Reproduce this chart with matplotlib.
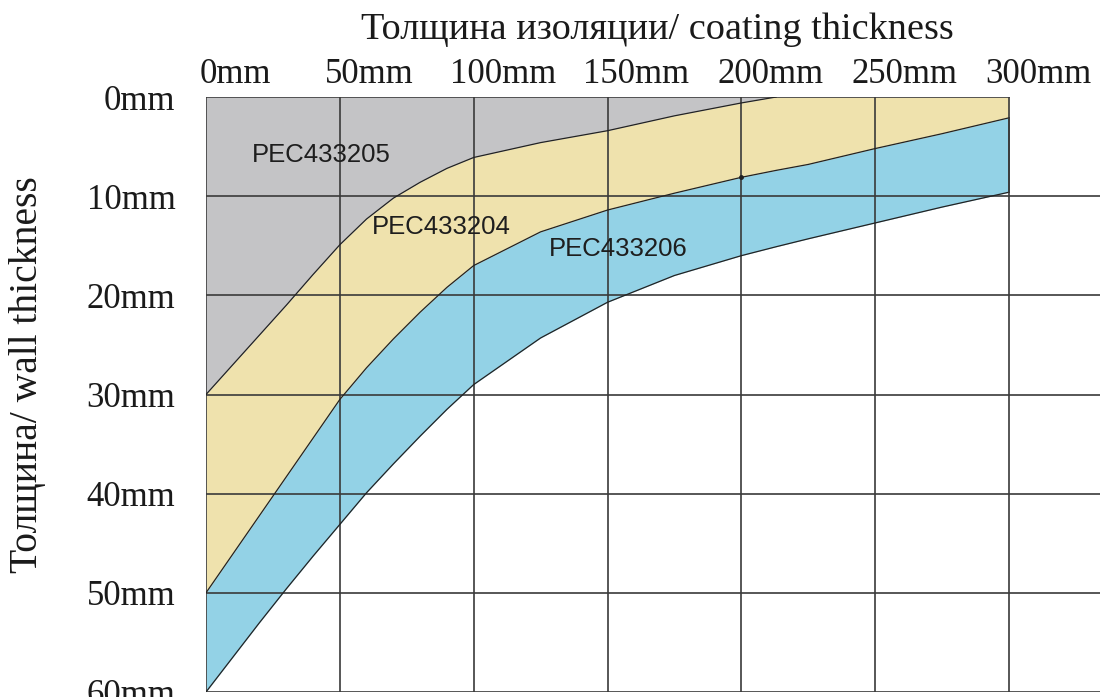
import numpy as np
import matplotlib
matplotlib.use("Agg")
from matplotlib import pyplot as plt
from matplotlib.transforms import ScaledTranslation

# coating thickness (mm) at which the boundaries were read
coating = [0, 10, 20, 30, 40, 50, 60, 70, 80, 90, 100, 125, 150, 175, 200, 213, 225, 250, 275, 300]
# wall thickness (mm) of the three boundaries
edge_205_204 = [30, 27, 24, 21, 17.9, 14.9, 12.3, 10.2, 8.6, 7.2, 6.1, 4.6, 3.4, 1.9, 0.6, 0, 0, 0, 0, 0]
edge_204_206 = [50, 46.1, 42.2, 38.3, 34.4, 30.5, 27.3, 24.4, 21.7, 19.2, 17.0, 13.6, 11.4, 9.7, 8.1, 7.4, 6.8, 5.2, 3.7, 2.1]
edge_206_end = [60, 56.5, 53.0, 49.6, 46.3, 43.1, 39.9, 37.0, 34.2, 31.5, 29.0, 24.3, 20.7, 18.0, 16.0, 15.1, 14.3, 12.7, 11.1, 9.6]

x_ticks = [0, 50, 100, 150, 200, 250, 300]
y_ticks = [0, 10, 20, 30, 40, 50, 60]
products = ["PEC433205", "PEC433204", "PEC433206"]
label_pos = [(17, 5.8), (62, 13.1), (128, 15.3)]

gray = "#c4c4c6"
yellow = "#efe2ad"
blue = "#93d2e6"
line_c = "#3a3a3a"
serif = "Liberation Serif"

fig = plt.figure(figsize=(11, 6.97), dpi=100)
ax = fig.add_axes([206 / 1100, 5 / 697, 894 / 1100, 595 / 697])
xmax = 300 * 894 / 803
ax.set_xlim(0, xmax)
ax.set_ylim(60, 0)
for s in ax.spines.values():
    s.set_visible(False)

x = np.array(coating)
a = np.array(edge_205_204)
b = np.array(edge_204_206)
c = np.array(edge_206_end)
ax.fill_between(x, 0, a, color=gray, lw=0)
ax.fill_between(x, a, b, color=yellow, lw=0)
ax.fill_between(x, b, c, color=blue, lw=0)

# grid
for v in x_ticks:
    ax.plot([v, v], [0, 60], color=line_c, lw=1.2, zorder=3)
ax.plot([0, 300], [0, 0], color=line_c, lw=1.2, zorder=3)
for h in y_ticks[1:]:
    ax.plot([0, xmax], [h, h], color=line_c, lw=1.2, zorder=3)

# boundaries
for yy in (a, b, c):
    m = yy > 0
    keep = m | np.roll(m, 1)
    ax.plot(x[keep], yy[keep], color="#222222", lw=0.9, zorder=4)
ax.plot([300, 300], [b[-1], c[-1]], color=line_c, lw=1.2, zorder=4)
ax.plot([200], [b[coating.index(200)]], "o", color="#222222", ms=2.5, zorder=5)

for name, (px, py) in zip(products, label_pos):
    ax.text(px, py, name, fontsize=18.5, family="Liberation Sans", color="#1e1e1e",
            va="center", ha="left", zorder=5)

ax.xaxis.tick_top()
ax.set_xticks(x_ticks)
ax.set_xticklabels([f"{v}mm" for v in x_ticks], family=serif, fontsize=25, color="#1a1a1a")
ax.set_yticks(y_ticks)
ax.set_yticklabels([f"{v}mm" for v in y_ticks], family=serif, fontsize=25, color="#1a1a1a")
ax.tick_params(axis="x", length=0, pad=4)
ax.tick_params(axis="y", length=0, pad=22)
shift = ScaledTranslation(0.29, 0, fig.dpi_scale_trans)
for lab in ax.get_xticklabels():
    lab.set_transform(lab.get_transform() + shift)

fig.text(657 / 1100, 1 - 30 / 697, "Толщина изоляции/ coating thickness",
         family=serif, fontsize=27.5, color="#1a1a1a", ha="center", va="center")
fig.text(28 / 1100, 1 - 375 / 697, "Толщина/ wall thickness", rotation=90,
         family=serif, fontsize=28.5, color="#1a1a1a", ha="center", va="center")

fig.savefig("out.png", dpi=100)
